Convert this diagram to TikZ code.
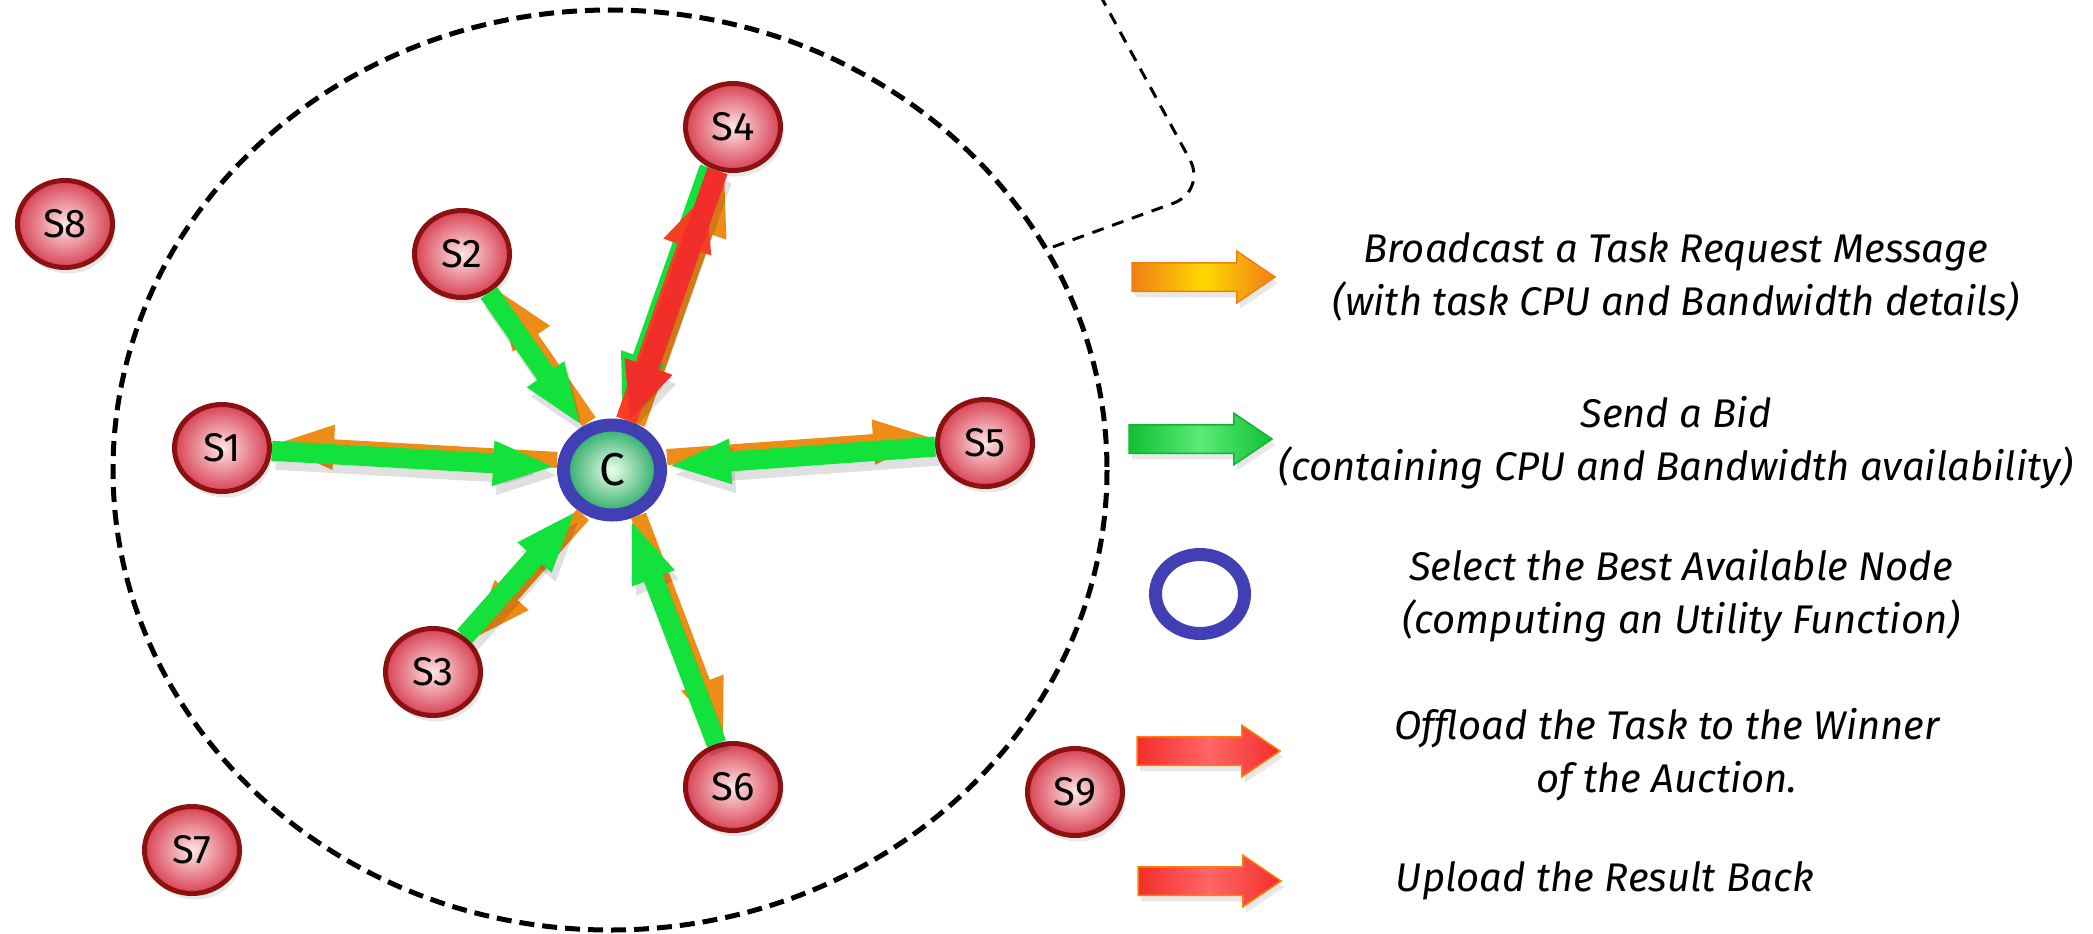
\documentclass[tikz,border=0pt]{standalone}
\usepackage{fontspec}
\setmainfont{Fira Sans}
\usetikzlibrary{arrows.meta,shapes.geometric,shapes.arrows,shadows}
\definecolor{nodered}{HTML}{D84254}
\definecolor{noderim}{HTML}{8C1212}
\definecolor{ringblue}{HTML}{4040B4}
\definecolor{ringgreen}{HTML}{22A860}
\definecolor{bidgreen}{HTML}{14E23C}
\definecolor{bcastorange}{HTML}{EE8C18}
\definecolor{taskred}{HTML}{F22E2A}

\begin{document}
\begin{tikzpicture}[x=1pt,y=-1pt,
  softshadow/.style={drop shadow={shadow xshift=3pt,shadow yshift=-6pt,opacity=0.18}},
  srv/.style={ellipse,draw=noderim,line width=5pt,minimum width=95pt,minimum height=87pt,
    inner sep=0pt,inner color=red!10,outer color=nodered,softshadow,
    font=\fontsize{40}{40}\selectfont},
  coord/.style={ellipse,draw=ringblue,line width=13pt,minimum width=97pt,minimum height=90pt,
    inner sep=0pt,inner color=green!8,outer color=ringgreen,softshadow,
    font=\fontsize{46}{46}\selectfont},
  bid/.style={draw=bidgreen,line width=20pt,-{Triangle[length=64pt,width=40pt]}},
  bcast/.style={draw=bcastorange,line width=16pt,-{Triangle[length=62pt,width=40pt]}},
  task/.style={draw=taskred,line width=21pt,-{Triangle[length=58pt,width=46pt]}},
  shade/.style={draw=black,opacity=0.12,transform canvas={shift={(4,9)}}},
  keyarrow/.style={single arrow,minimum height=143pt,minimum width=50pt,inner sep=0pt,
    text height=13.5pt,text depth=13.5pt,text width=0pt,
    single arrow head extend=11.5pt,single arrow tip angle=68,line width=1.5pt,softshadow},
  note/.style={align=center,font=\fontsize{40}{53}\selectfont\itshape}]
  \useasboundingbox (0,0) rectangle (2093,934);

  % range of the coordinator and its callout
  \draw[line width=5pt,dash pattern=on 15pt off 8pt] (610,470) ellipse [x radius=497,y radius=460];
  \draw[line width=3pt,dash pattern=on 12pt off 9pt,rounded corners=36pt]
    (1100,-5) -- (1207,191) -- (1050,248);

  % nodes
  \node[coord] (c) at (612,470) {C};
  \node[srv] (s1) at (222,448) {S1};
  \node[srv] (s2) at (462,254) {S2};
  \node[srv] (s3) at (433,672) {S3};
  \node[srv] (s4) at (733,127) {S4};
  \node[srv] (s5) at (985,443) {S5};
  \node[srv] (s6) at (733,787) {S6};
  \node[srv] (s7) at (192,850) {S7};
  \node[srv] (s8) at (65,224) {S8};
  \node[srv] (s9) at (1075,792) {S9};

  % request out, bids back
  \foreach \s/\dx/\dy in {s1/0/-7,s2/7/-5,s3/6/5,s5/0/-9,s6/8/-3}{
    \draw[bcast,transform canvas={shift={(\dx,\dy)}}] (c) -- (\s);
    \draw[bid,shade] (\s) -- (c);
    \draw[bid] (\s) -- (c);}
  \draw[bcast,transform canvas={shift={(8,3)}}] (c) -- (s4);
  \draw[bid,transform canvas={shift={(-8,-3)}}] (s4) -- (c);
  \draw[task,shade] (s4) -- (c);
  \draw[task,draw=taskred!80!orange,shorten >=24pt,transform canvas={shift={(-3,-1)}}] (c) -- (s4);
  \draw[task] (s4) -- (c);

  % legend
  \node[keyarrow,draw=bcastorange!90!red,left color=bcastorange!90!red,right color=bcastorange!90!red,
    middle color=yellow!70!orange] (kbcast) at (1193,277) {};
  \node[keyarrow,draw=bidgreen!80!black,left color=bidgreen!85!black,right color=bidgreen!85!black,
    middle color=bidgreen!70!white] (kbid) at (1190,439) {};
  \node[ellipse,draw=ringblue,fill=white,line width=13pt,minimum width=89pt,minimum height=79pt,softshadow]
    (kring) at (1200,594) {};
  \node[keyarrow,draw=orange,left color=taskred,right color=taskred,middle color=red!60!white]
    (koffload) at (1198,751) {};
  \node[keyarrow,draw=orange,left color=taskred,right color=taskred,middle color=red!60!white]
    (kupload) at (1199,881) {};

  \node[note] (tbcast) at (1676,277) {Broadcast a Task Request Message\\(with task CPU and Bandwidth details)};
  \node[note] (tbid) at (1676,443) {Send a Bid\\(containing CPU and Bandwidth availability)};
  \node[note] (tselect) at (1681,596) {Select the Best Available Node\\(computing an Utility Function)};
  \node[note] (toffload) at (1667,755) {Offload the Task to the Winner\\of the Auction.};
  \node[note] (tupload) at (1605,881) {Upload the Result Back};
\end{tikzpicture}
\end{document}
